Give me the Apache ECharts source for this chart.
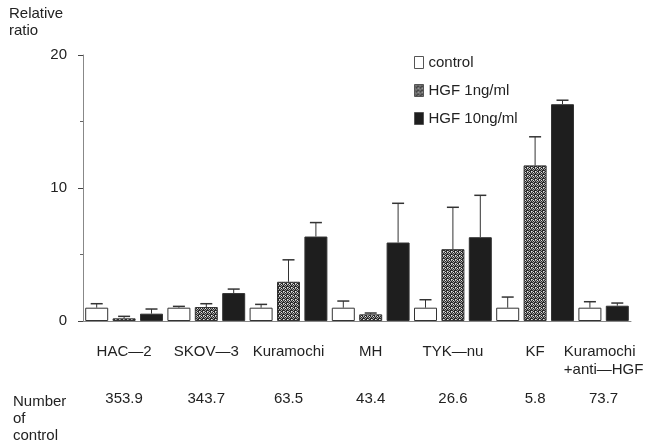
<!DOCTYPE html>
<html>
<head>
<meta charset="utf-8">
<script src="https://cdn.jsdelivr.net/npm/echarts@6/dist/echarts.min.js"></script>
<style>
  html, body { margin: 0; padding: 0; background: #fff; }
  #main { width: 646px; height: 444px; }
</style>
</head>
<body>
<div id="main"></div>
<script>
// data
var categories = ['HAC—2', 'SKOV—3', 'Kuramochi', 'MH', 'TYK—nu', 'KF', 'Kuramochi\n+anti—HGF'];
var controlCounts = ['353.9', '343.7', '63.5', '43.4', '26.6', '5.8', '73.7'];
var seriesNames = ['control', 'HGF 1ng/ml', 'HGF 10ng/ml'];
var control = [1.0, 1.0, 1.0, 1.0, 1.0, 1.0, 1.0];
var controlErr = [0.3, 0.1, 0.25, 0.5, 0.6, 0.8, 0.45];
var hgf1 = [0.2, 1.05, 2.95, 0.5, 5.4, 11.7, null];
var hgf1Err = [0.15, 0.25, 1.65, 0.1, 3.15, 2.15, null];
var hgf10 = [0.55, 2.1, 6.35, 5.9, 6.3, 16.3, 1.15];
var hgf10Err = [0.35, 0.3, 1.05, 2.95, 3.15, 0.3, 0.2];
var yTicks = [0, 10, 20];

var FONT = '"Liberation Sans", Arial, sans-serif';
var values = [control, hgf1, hgf10];
var errors = [controlErr, hgf1Err, hgf10Err];

// one axis slot per drawn bar (last group only has two bars)
var slots = [];
var groupCenters = [];
categories.forEach(function (c, i) {
  var first = slots.length;
  values.forEach(function (arr, s) {
    if (arr[i] != null) slots.push({ cat: i, s: s });
  });
  groupCenters.push((first + slots.length) / 2);
});

// stipple texture for HGF 1ng/ml
var pat = document.createElement('canvas');
pat.width = 4; pat.height = 4;
var pctx = pat.getContext('2d');
pctx.fillStyle = '#a0a0a0';
pctx.fillRect(0, 0, 4, 4);
pctx.fillStyle = '#2a2a2a';
[[0, 0], [2, 0], [1, 1], [3, 1], [0, 2], [3, 2], [1, 3], [2, 3], [2, 2]].forEach(function (p) {
  pctx.fillRect(p[0], p[1], 1, 1);
});
pctx.fillStyle = '#e6e6e6';
[[1, 0], [3, 3]].forEach(function (p) {
  pctx.fillRect(p[0], p[1], 1, 1);
});

var fills = ['#ffffff', { image: pat, repeat: 'repeat' }, '#1e1e1e'];

var chartDom = document.getElementById('main');
var myChart = echarts.init(chartDom);

var barSeries = seriesNames.map(function (name, s) {
  return {
    name: name,
    type: 'bar',
    xAxisIndex: 0,
    barWidth: 23,
    barGap: '-100%',
    itemStyle: { color: fills[s], borderColor: '#333', borderWidth: 1 },
    data: slots.map(function (sl) { return sl.s === s ? values[s][sl.cat] : null; })
  };
});

var errSeries = {
  type: 'custom',
  xAxisIndex: 0,
  z: 3,
  encode: { x: 0, y: 1 },
  data: slots.map(function (sl, k) {
    return [k, values[sl.s][sl.cat], errors[sl.s][sl.cat]];
  }),
  renderItem: function (params, api) {
    var x = api.value(0), v = api.value(1), e = api.value(2);
    var p0 = api.coord([x, v]);
    var p1 = api.coord([x, v + e]);
    return {
      type: 'group',
      children: [
        { type: 'line', shape: { x1: p0[0], y1: p0[1], x2: p1[0], y2: p1[1] }, style: { stroke: '#333', lineWidth: 1 } },
        { type: 'line', shape: { x1: p1[0] - 6, y1: p1[1], x2: p1[0] + 6, y2: p1[1] }, style: { stroke: '#333', lineWidth: 1.5 } }
      ]
    };
  }
};

var txt = { fontFamily: FONT, fontSize: 15, color: '#222' };

var option = {
  animation: false,
  title: [
    { text: 'Relative\nratio', left: 4, top: 0, textStyle: Object.assign({ fontWeight: 'normal', lineHeight: 17 }, txt) },
    { text: 'Number\nof\ncontrol', left: 8, top: 388, textStyle: Object.assign({ fontWeight: 'normal', lineHeight: 17 }, txt) }
  ],
  legend: {
    data: seriesNames,
    orient: 'vertical',
    left: 409,
    top: 50,
    itemWidth: 9,
    itemHeight: 12,
    itemGap: 13,
    icon: 'rect',
    itemStyle: { borderWidth: 1, borderColor: '#555' },
    textStyle: txt
  },
  grid: { left: 83, right: 15, top: 55, bottom: 123, containLabel: false, outerBoundsMode: 'none' },
  xAxis: [
    {
      type: 'category',
      data: slots.map(function (sl) { return categories[sl.cat] + ' ' + seriesNames[sl.s]; }),
      boundaryGap: true,
      axisLine: { lineStyle: { color: '#888', width: 1 } },
      axisTick: { length: 3, lineStyle: { color: '#555' } },
      axisLabel: { show: false }
    },
    {
      type: 'value',
      position: 'bottom',
      min: 0,
      max: slots.length,
      axisLine: { show: false },
      axisTick: { show: false },
      splitLine: { show: false },
      axisLabel: {
        customValues: groupCenters,
        margin: 22,
        formatter: function (v) {
          var i = groupCenters.findIndex(function (c) { return Math.abs(c - v) < 1e-6; });
          if (i < 0) return '';
          var lines = categories[i].split('\n');
          var st = lines.length > 1 ? 'l' : 'n';
          return '{' + st + '|' + lines[0] + '}\n{' + st + '|' + (lines[1] || ' ') + '}\n{v|' + controlCounts[i] + '}';
        },
        rich: {
          n: Object.assign({ lineHeight: 18, align: 'center' }, txt),
          l: Object.assign({ lineHeight: 18, align: 'left' }, txt),
          v: Object.assign({ lineHeight: 40, align: 'center' }, txt)
        }
      }
    }
  ],
  yAxis: {
    type: 'value',
    min: yTicks[0],
    max: yTicks[yTicks.length - 1],
    interval: yTicks[1] - yTicks[0],
    axisLine: { show: true, lineStyle: { color: '#888' } },
    axisTick: { show: true, length: 5, lineStyle: { color: '#444' } },
    minorTick: { show: true, splitNumber: 2, length: 3, lineStyle: { color: '#666' } },
    splitLine: { show: false },
    axisLabel: Object.assign({ margin: 16 }, txt)
  },
  series: barSeries.concat([errSeries])
};

option && myChart.setOption(option);
</script>
</body>
</html>
